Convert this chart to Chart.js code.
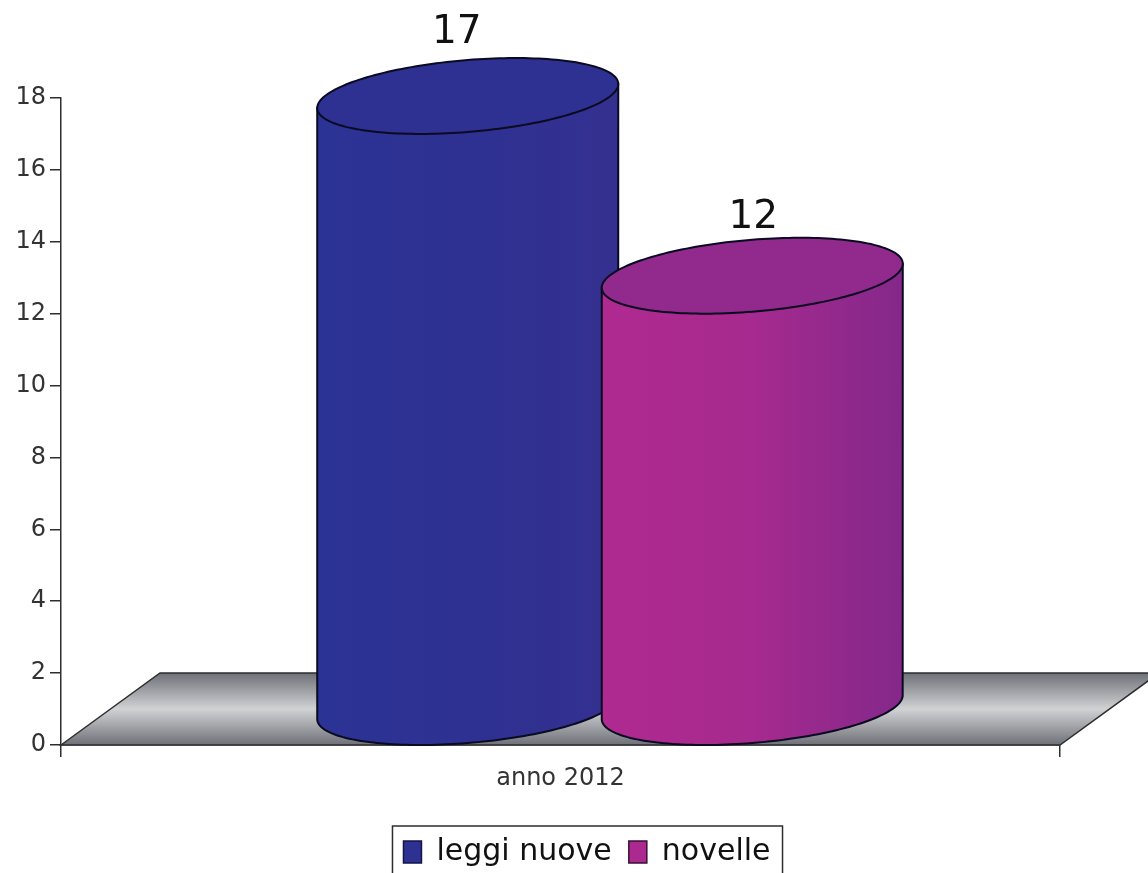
<!DOCTYPE html>
<html>
<head>
<meta charset="utf-8">
<title>anno 2012</title>
<script src="https://cdn.jsdelivr.net/npm/chart.js@4/dist/chart.umd.min.js"></script>
<style>
    html, body { margin: 0; padding: 0; background: #fff; overflow: hidden; }
    canvas { display: block; }
</style>
</head>
<body>
<canvas id="cylinders" width="1148" height="873"></canvas>
<script>
'use strict';

/* ── Data ───────────────────────────────────────────────────────────────── */

const categories = ['anno 2012'];
const seriesNames = ['leggi nuove', 'novelle'];
const leggiNuove = [17];
const novelle = [12];
const yTicks = [0, 2, 4, 6, 8, 10, 12, 14, 16, 18];

/* ── Styles ─────────────────────────────────────────────────────────────── */

const FONT = '"DejaVu Sans", Verdana, sans-serif';
const AXIS_COLOR = '#2e2e2e';
const TEXT_COLOR = '#333333';

// per series: legend colour, cap colour, body gradient stops, label nudge
const swatchColors = ['#2e3192', '#ac2a90'];
const capColors = ['#2e3192', '#92298d'];
const bodyStops = [
    ['#2b3394', '#2e3192', '#343090'],
    ['#b02a90', '#a62a8f', '#84288a'],
];
const labelNudgeX = [-11, 1];
const labelNudgeY = [-2, 3];

// floor depth, and how far the cylinders sit back on it
const DEPTH_X = 99;
const DEPTH_Y = 72;
// the tilted ellipse of a cylinder end: rise of its right side, half height
const TILT = 12;
const ELLIPSE_Y = 36;
const ELLIPSE_EXTENT = Math.sqrt(TILT * TILT + ELLIPSE_Y * ELLIPSE_Y);
// legend frame sits a little above its entries
const LEGEND_SHIFT_X = 57;
const LEGEND_LIFT = 6;

/* ── 3D drawing ─────────────────────────────────────────────────────────── */

function drawFloor(chart) {
    const { ctx, chartArea: { left, right, bottom } } = chart;
    const gradient = ctx.createLinearGradient(0, bottom - DEPTH_Y, 0, bottom);
    gradient.addColorStop(0, '#6e7178');
    gradient.addColorStop(0.5, '#d1d2d4');
    gradient.addColorStop(1, '#6e7178');

    ctx.beginPath();
    ctx.moveTo(left, bottom);
    ctx.lineTo(left + DEPTH_X, bottom - DEPTH_Y);
    ctx.lineTo(right + DEPTH_X, bottom - DEPTH_Y);
    ctx.lineTo(right, bottom);
    ctx.closePath();
    ctx.fillStyle = gradient;
    ctx.fill();
    ctx.lineWidth = 1.5;
    ctx.strokeStyle = AXIS_COLOR;
    ctx.stroke();
}

function drawCylinder(ctx, bar, baseY, index) {
    const half = bar.width / 2;
    const cx = bar.x + DEPTH_X / 2;
    const topY = bar.y - ELLIPSE_EXTENT;
    const bottomY = baseY - ELLIPSE_EXTENT;

    const body = ctx.createLinearGradient(cx - half, 0, cx + half, 0);
    bodyStops[index].forEach((c, i) => body.addColorStop(i / 2, c));

    // body: down the left side, round the front of the base, up the right side
    ctx.beginPath();
    ctx.moveTo(cx - half, topY + TILT);
    ctx.lineTo(cx - half, bottomY + TILT);
    for (let t = Math.PI; t >= 0; t -= Math.PI / 90) {
        ctx.lineTo(cx + half * Math.cos(t), bottomY - TILT * Math.cos(t) + ELLIPSE_Y * Math.sin(t));
    }
    ctx.lineTo(cx + half, topY - TILT);
    ctx.closePath();
    ctx.fillStyle = body;
    ctx.fill();
    ctx.lineWidth = 2;
    ctx.strokeStyle = '#0a0a20';
    ctx.stroke();

    // cap
    ctx.beginPath();
    for (let t = 0; t < Math.PI * 2; t += Math.PI / 90) {
        ctx.lineTo(cx + half * Math.cos(t), topY - TILT * Math.cos(t) + ELLIPSE_Y * Math.sin(t));
    }
    ctx.closePath();
    ctx.fillStyle = capColors[index];
    ctx.fill();
    ctx.stroke();

    // value label
    ctx.fillStyle = '#111111';
    ctx.font = '39px ' + FONT;
    ctx.textAlign = 'center';
    ctx.textBaseline = 'alphabetic';
    ctx.fillText(String(bar.$value), cx + labelNudgeX[index], bar.y - 89 + labelNudgeY[index]);
}

const cylinderPlugin = {
    id: 'cylinders',
    afterLayout(chart) {
        chart.legend.left += LEGEND_SHIFT_X;
        chart.legend.right += LEGEND_SHIFT_X;
        chart.legend.top -= LEGEND_LIFT;
    },
    beforeDatasetsDraw(chart) {
        const { ctx } = chart;
        ctx.save();
        drawFloor(chart);
        chart.data.datasets.forEach((ds, i) => {
            const el = chart.getDatasetMeta(i).data[0];
            const bar = el.getProps(['x', 'y', 'width'], true);
            bar.$value = ds.data[0];
            drawCylinder(ctx, bar, chart.scales.y.getPixelForValue(0), i);
        });
        ctx.restore();
        return false; // bars replaced by the cylinders
    },
    afterDraw(chart) {
        const { ctx, legend } = chart;
        const boxes = legend.legendHitBoxes;
        const left = boxes[0].left - 11;
        const last = boxes[boxes.length - 1];
        ctx.save();
        ctx.lineWidth = 1.5;
        ctx.strokeStyle = AXIS_COLOR;
        ctx.strokeRect(left, legend.top + LEGEND_LIFT, last.left + last.width + 12 - left, 80);
        ctx.restore();
    },
};

/* ── Chart ──────────────────────────────────────────────────────────────── */

new Chart(document.getElementById('cylinders'), {
    type: 'bar',
    data: {
        labels: categories,
        datasets: [
            { label: seriesNames[0], data: leggiNuove, backgroundColor: swatchColors[0], borderColor: '#15154a', borderWidth: 1.5 },
            { label: seriesNames[1], data: novelle, backgroundColor: swatchColors[1], borderColor: '#3a1036', borderWidth: 1.5 },
        ],
    },
    plugins: [cylinderPlugin],
    options: {
        responsive: false,
        animation: false,
        categoryPercentage: 0.5696,
        barPercentage: 1.058,
        layout: { padding: { left: 0, right: 88, top: 98, bottom: -10 } },
        plugins: {
            tooltip: { enabled: false },
            legend: {
                position: 'bottom',
                labels: {
                    boxWidth: 18,
                    boxHeight: 22,
                    padding: 17,
                    color: '#111111',
                    font: { family: FONT, size: 30 },
                },
            },
        },
        scales: {
            x: {
                afterFit: scale => { scale.height = 81; },
                grid: { offset: true, drawOnChartArea: false, color: AXIS_COLOR, tickLength: 12, lineWidth: 1.5 },
                border: { color: AXIS_COLOR, width: 1.5 },
                ticks: { color: TEXT_COLOR, padding: 7, font: { family: FONT, size: 24 } },
            },
            y: {
                min: 0,
                max: 18,
                afterFit: scale => { scale.width = 61; },
                afterBuildTicks: scale => { scale.ticks = yTicks.map(value => ({ value })); },
                grid: { drawOnChartArea: false, color: AXIS_COLOR, tickLength: 11, lineWidth: 1.5 },
                border: { color: AXIS_COLOR, width: 1.5 },
                ticks: { color: TEXT_COLOR, padding: 4, font: { family: FONT, size: 24 } },
            },
        },
    },
});
</script>
</body>
</html>
